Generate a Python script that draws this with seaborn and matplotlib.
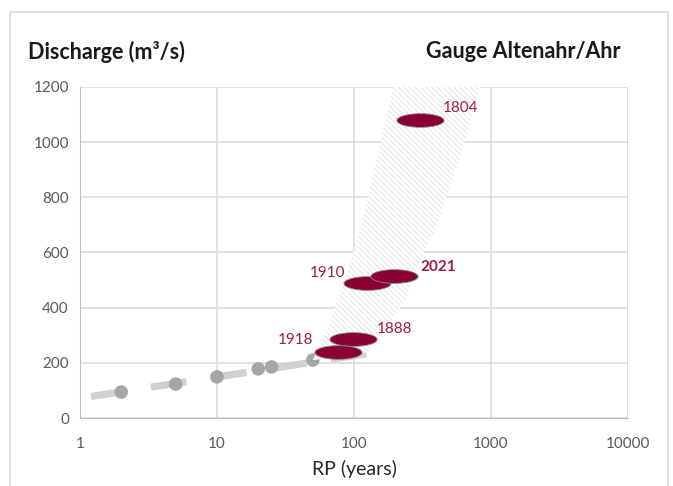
import numpy as np
import pandas as pd
import seaborn as sns
import matplotlib.pyplot as plt
from matplotlib.path import Path
from matplotlib.patches import Polygon, Rectangle
from matplotlib.ticker import LogLocator, FixedLocator, NullFormatter

# Observed gauge series (return period, discharge)
gauge_rp = [2, 5, 10, 20, 25, 50]
gauge_q = [94, 123, 149, 178, 185, 210]

# Fitted extreme-value curve (dashed)
fit_rp = [1.2, 140]
fit_q = [78, 237]

# Historical floods
flood_years = ["1804", "1888", "1918", "1910", "2021"]
flood_rp = [303, 98, 77, 124, 196]
flood_q = [1080, 286, 238, 490, 516]

# Uncertainty band outline
band_rp = [50, 59, 86, 111, 155, 193, 832, 647, 390, 319, 236, 147, 127, 90]
band_q = [210, 283, 507, 681, 996, 1200, 1200, 1000, 681, 598, 428, 272, 239, 225]

sns.set_style("white")
plt.rcParams['font.family'] = ['Lato', 'DejaVu Sans']
plt.rcParams['hatch.linewidth'] = 0.5
plt.rcParams['hatch.color'] = '#dadada'

fig = plt.figure(figsize=(6.73, 4.86), dpi=100)
ax = fig.add_axes([80 / 673, 68 / 486, 548 / 673, 331 / 486])

# chart frame like the spreadsheet export
fig.patches.append(Rectangle((10 / 673, -0.05), 658 / 673, 1.05 - 12 / 486,
                             transform=fig.transFigure, fill=False,
                             edgecolor='#d9d9d9', lw=1.2))

ax.set_xscale('log')
ax.set_xlim(1, 10000)
ax.set_ylim(0, 1200)
ax.grid(True, which='major', color='#d9d9d9', lw=1.1, zorder=0)
ax.set_axisbelow(True)

fit = pd.DataFrame({'rp': fit_rp, 'q': fit_q})
sns.lineplot(data=fit, x='rp', y='q', ax=ax, color='#d0d0d0', lw=5.2,
             dashes=False, zorder=2).lines[-1].set_dashes((5, 3.4))

obs = pd.DataFrame({'rp': gauge_rp, 'q': gauge_q})
sns.scatterplot(data=obs, x='rp', y='q', ax=ax, color='#a6a6a6', s=95,
                edgecolor='none', zorder=3)

band = Polygon(np.column_stack([band_rp, band_q]), closed=True,
               facecolor='white', edgecolor='#dadada', lw=0,
               hatch='\\\\\\\\\\\\', zorder=4)
ax.add_patch(band)

t = np.linspace(0, 2 * np.pi, 60)
ellipse = Path(np.column_stack([np.cos(t), 0.29 * np.sin(t)]))
ax.scatter(flood_rp, flood_q, marker=ellipse, s=34 ** 2, c='#8a0035',
           edgecolors='#8c8c8c', linewidths=0.6, zorder=5)

offsets = {"1804": (29, 9), "1888": (30, 7), "1918": (-31, 9),
           "1910": (-28, 7), "2021": (32, 6)}
for yr, x, y in zip(flood_years, flood_rp, flood_q):
    ax.annotate(yr, (x, y), xytext=offsets[yr], textcoords='offset points',
                ha='center', va='center', fontsize=11, color='#9b1d4c',
                fontweight='bold' if yr == "2021" else 'normal', zorder=6)

ax.xaxis.set_major_locator(FixedLocator([1, 10, 100, 1000, 10000]))
ax.set_xticklabels(['1', '10', '100', '1000', '10000'])
ax.xaxis.set_minor_locator(LogLocator(base=10, subs=np.arange(2, 10)))
ax.xaxis.set_minor_formatter(NullFormatter())
ax.set_yticks(range(0, 1201, 200))
ax.tick_params(axis='x', which='both', direction='out', colors='#bfbfbf',
               labelcolor='#595959', labelsize=11, length=4, pad=10)
ax.tick_params(axis='y', length=0, labelcolor='#595959', labelsize=11, pad=8)

for s in ['top', 'right']:
    ax.spines[s].set_visible(False)
for s in ['left', 'bottom']:
    ax.spines[s].set_color('#bfbfbf')

ax.set_xlabel('RP (years)', fontsize=14, color='#262626', labelpad=6)
ax.set_ylabel('')

fig.text(28 / 673, 1 - 52 / 486, 'Discharge (m³/s)', fontsize=15.5,
         fontweight='bold', color='#1a1a1a', va='center', ha='left')
fig.text(620 / 673, 1 - 52 / 486, 'Gauge Altenahr/Ahr', fontsize=15.5,
         fontweight='bold', color='#1a1a1a', va='center', ha='right')

fig.savefig('out.png', dpi=100)
